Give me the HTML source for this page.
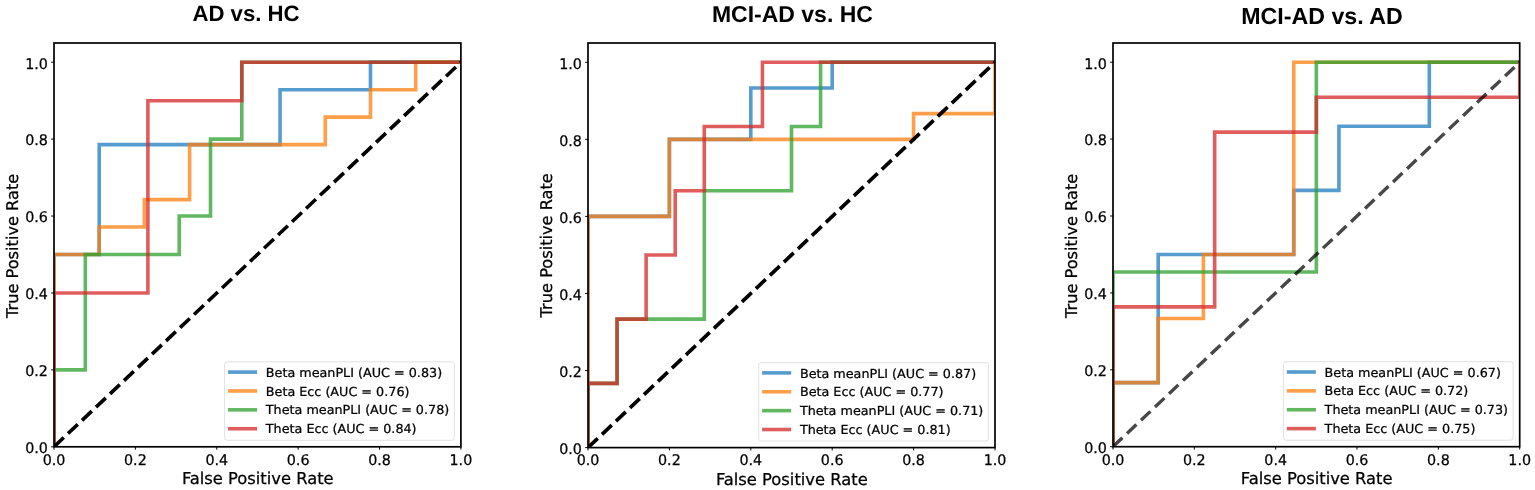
<!DOCTYPE html>
<html lang="en"><head><meta charset="utf-8"><title>ROC curves</title>
<style>html,body{margin:0;padding:0;background:#fff;}body{width:1535px;height:490px;overflow:hidden;}svg{display:block;text-rendering:geometricPrecision;}.dj{font-family:'DejaVu Sans', 'Liberation Sans', sans-serif;fill:#000;stroke:#000;stroke-width:0.25px;}.lb{font-family:'Liberation Sans', 'DejaVu Sans', sans-serif;font-weight:bold;fill:#000;}</style></head><body>
<svg width="1535" height="490" viewBox="0 0 1535 490">
<rect x="0" y="0" width="1535" height="490" fill="#ffffff"/>
<g>
<clipPath id="clip0"><rect x="54" y="43" width="406.9" height="403.8"/></clipPath>
<g clip-path="url(#clip0)" fill="none" stroke-linejoin="miter" stroke-linecap="butt">
<path d="M54 446.8 L54 254.51 L99.21 254.51 L99.21 144.64 L280.06 144.64 L280.06 89.7 L370.48 89.7 L370.48 62.23 L460.9 62.23" stroke="#1f7bbd" stroke-opacity="0.75" stroke-width="3.6" stroke-linecap="square"/>
<path d="M54 446.8 L54 254.51 L99.21 254.51 L99.21 227.04 L144.42 227.04 L144.42 199.58 L189.63 199.58 L189.63 144.64 L325.27 144.64 L325.27 117.17 L370.48 117.17 L370.48 89.7 L415.69 89.7 L415.69 62.23 L460.9 62.23" stroke="#ff7f0e" stroke-opacity="0.75" stroke-width="3.6" stroke-linecap="square"/>
<path d="M54 446.8 L54 369.89 L85.3 369.89 L85.3 254.51 L179.2 254.51 L179.2 216.06 L210.5 216.06 L210.5 139.14 L241.8 139.14 L241.8 62.23 L460.9 62.23" stroke="#2ca02c" stroke-opacity="0.75" stroke-width="3.6" stroke-linecap="square"/>
<path d="M54 446.8 L54 292.97 L147.9 292.97 L147.9 100.69 L241.8 100.69 L241.8 62.23 L460.9 62.23" stroke="#d62728" stroke-opacity="0.75" stroke-width="3.6" stroke-linecap="square"/>
<path d="M54 446.8 L460.9 62.23" stroke="#000000" stroke-opacity="1.0" stroke-width="3.6" stroke-dasharray="13.45 5.82"/>
</g>
<line x1="54" y1="446.8" x2="54" y2="449.65" stroke="#000" stroke-width="1.0"/>
<text class="dj" transform="translate(54 464.6) scale(1 1.025)" font-size="14.3" text-anchor="middle">0.0</text>
<line x1="51.15" y1="446.8" x2="54" y2="446.8" stroke="#000" stroke-width="1.0"/>
<text class="dj" transform="translate(47.9 453.15) scale(1 1.025)" font-size="14.3" text-anchor="end">0.0</text>
<line x1="135.38" y1="446.8" x2="135.38" y2="449.65" stroke="#000" stroke-width="1.0"/>
<text class="dj" transform="translate(135.38 464.6) scale(1 1.025)" font-size="14.3" text-anchor="middle">0.2</text>
<line x1="51.15" y1="369.89" x2="54" y2="369.89" stroke="#000" stroke-width="1.0"/>
<text class="dj" transform="translate(47.9 376.24) scale(1 1.025)" font-size="14.3" text-anchor="end">0.2</text>
<line x1="216.76" y1="446.8" x2="216.76" y2="449.65" stroke="#000" stroke-width="1.0"/>
<text class="dj" transform="translate(216.76 464.6) scale(1 1.025)" font-size="14.3" text-anchor="middle">0.4</text>
<line x1="51.15" y1="292.97" x2="54" y2="292.97" stroke="#000" stroke-width="1.0"/>
<text class="dj" transform="translate(47.9 299.32) scale(1 1.025)" font-size="14.3" text-anchor="end">0.4</text>
<line x1="298.14" y1="446.8" x2="298.14" y2="449.65" stroke="#000" stroke-width="1.0"/>
<text class="dj" transform="translate(298.14 464.6) scale(1 1.025)" font-size="14.3" text-anchor="middle">0.6</text>
<line x1="51.15" y1="216.06" x2="54" y2="216.06" stroke="#000" stroke-width="1.0"/>
<text class="dj" transform="translate(47.9 222.41) scale(1 1.025)" font-size="14.3" text-anchor="end">0.6</text>
<line x1="379.52" y1="446.8" x2="379.52" y2="449.65" stroke="#000" stroke-width="1.0"/>
<text class="dj" transform="translate(379.52 464.6) scale(1 1.025)" font-size="14.3" text-anchor="middle">0.8</text>
<line x1="51.15" y1="139.14" x2="54" y2="139.14" stroke="#000" stroke-width="1.0"/>
<text class="dj" transform="translate(47.9 145.49) scale(1 1.025)" font-size="14.3" text-anchor="end">0.8</text>
<line x1="460.9" y1="446.8" x2="460.9" y2="449.65" stroke="#000" stroke-width="1.0"/>
<text class="dj" transform="translate(460.9 464.6) scale(1 1.025)" font-size="14.3" text-anchor="middle">1.0</text>
<line x1="51.15" y1="62.23" x2="54" y2="62.23" stroke="#000" stroke-width="1.0"/>
<text class="dj" transform="translate(47.9 68.58) scale(1 1.025)" font-size="14.3" text-anchor="end">1.0</text>
<rect x="54" y="43" width="406.9" height="403.8" fill="none" stroke="#000" stroke-width="1.7"/>
<text class="dj" transform="translate(257.75 483.9) scale(1 1)" font-size="16.34" text-anchor="middle">False Positive Rate</text>
<text class="dj" transform="translate(17.5 245.9) rotate(-90) scale(1 1)" font-size="16.2" text-anchor="middle">True Positive Rate</text>
<text class="lb" transform="translate(246 21.1) scale(1 1)" font-size="22.2" text-anchor="middle">AD vs. HC</text>
<rect x="224.6" y="361.8" width="229.7" height="78.5" rx="2.6" ry="2.6" fill="#ffffff" fill-opacity="0.8" stroke="#d9d9d9" stroke-opacity="0.8" stroke-width="1"/>
<line x1="228" y1="372.1" x2="257.1" y2="372.1" stroke="#1f7bbd" stroke-opacity="0.75" stroke-width="3.6"/>
<text class="dj" transform="translate(265.8 376.7) scale(1 0.975)" font-size="12.75">Beta meanPLI (AUC = 0.83)</text>
<line x1="228" y1="390.97" x2="257.1" y2="390.97" stroke="#ff7f0e" stroke-opacity="0.75" stroke-width="3.6"/>
<text class="dj" transform="translate(265.8 395.57) scale(1 0.975)" font-size="12.75">Beta Ecc (AUC = 0.76)</text>
<line x1="228" y1="409.84" x2="257.1" y2="409.84" stroke="#2ca02c" stroke-opacity="0.75" stroke-width="3.6"/>
<text class="dj" transform="translate(265.8 414.44) scale(1 0.975)" font-size="12.75">Theta meanPLI (AUC = 0.78)</text>
<line x1="228" y1="428.71" x2="257.1" y2="428.71" stroke="#d62728" stroke-opacity="0.75" stroke-width="3.6"/>
<text class="dj" transform="translate(265.8 433.31) scale(1 0.975)" font-size="12.75">Theta Ecc (AUC = 0.84)</text>
</g>
<g>
<clipPath id="clip1"><rect x="588" y="43" width="407" height="404.6"/></clipPath>
<g clip-path="url(#clip1)" fill="none" stroke-linejoin="miter" stroke-linecap="butt">
<path d="M588 447.6 L588 216.4 L669.4 216.4 L669.4 139.33 L750.8 139.33 L750.8 87.96 L832.2 87.96 L832.2 62.27 L995 62.27" stroke="#1f7bbd" stroke-opacity="0.75" stroke-width="3.6" stroke-linecap="square"/>
<path d="M588 447.6 L588 216.4 L669.4 216.4 L669.4 139.33 L913.6 139.33 L913.6 113.64 L995 113.64 L995 62.27" stroke="#ff7f0e" stroke-opacity="0.75" stroke-width="3.6" stroke-linecap="square"/>
<path d="M588 447.6 L588 383.38 L617.07 383.38 L617.07 319.16 L704.29 319.16 L704.29 190.71 L791.5 190.71 L791.5 126.49 L820.57 126.49 L820.57 62.27 L995 62.27" stroke="#2ca02c" stroke-opacity="0.75" stroke-width="3.6" stroke-linecap="square"/>
<path d="M588 447.6 L588 383.38 L617.07 383.38 L617.07 319.16 L646.14 319.16 L646.14 254.93 L675.21 254.93 L675.21 190.71 L704.29 190.71 L704.29 126.49 L762.43 126.49 L762.43 62.27 L995 62.27" stroke="#d62728" stroke-opacity="0.75" stroke-width="3.6" stroke-linecap="square"/>
<path d="M588 447.6 L995 62.27" stroke="#000000" stroke-opacity="1.0" stroke-width="3.6" stroke-dasharray="13.45 5.82"/>
</g>
<line x1="588" y1="447.6" x2="588" y2="450.45" stroke="#000" stroke-width="1.0"/>
<text class="dj" transform="translate(588 465.2) scale(1 1.025)" font-size="14.3" text-anchor="middle">0.0</text>
<line x1="585.15" y1="447.6" x2="588" y2="447.6" stroke="#000" stroke-width="1.0"/>
<text class="dj" transform="translate(581.9 453.95) scale(1 1.025)" font-size="14.3" text-anchor="end">0.0</text>
<line x1="669.4" y1="447.6" x2="669.4" y2="450.45" stroke="#000" stroke-width="1.0"/>
<text class="dj" transform="translate(669.4 465.2) scale(1 1.025)" font-size="14.3" text-anchor="middle">0.2</text>
<line x1="585.15" y1="370.53" x2="588" y2="370.53" stroke="#000" stroke-width="1.0"/>
<text class="dj" transform="translate(581.9 376.88) scale(1 1.025)" font-size="14.3" text-anchor="end">0.2</text>
<line x1="750.8" y1="447.6" x2="750.8" y2="450.45" stroke="#000" stroke-width="1.0"/>
<text class="dj" transform="translate(750.8 465.2) scale(1 1.025)" font-size="14.3" text-anchor="middle">0.4</text>
<line x1="585.15" y1="293.47" x2="588" y2="293.47" stroke="#000" stroke-width="1.0"/>
<text class="dj" transform="translate(581.9 299.82) scale(1 1.025)" font-size="14.3" text-anchor="end">0.4</text>
<line x1="832.2" y1="447.6" x2="832.2" y2="450.45" stroke="#000" stroke-width="1.0"/>
<text class="dj" transform="translate(832.2 465.2) scale(1 1.025)" font-size="14.3" text-anchor="middle">0.6</text>
<line x1="585.15" y1="216.4" x2="588" y2="216.4" stroke="#000" stroke-width="1.0"/>
<text class="dj" transform="translate(581.9 222.75) scale(1 1.025)" font-size="14.3" text-anchor="end">0.6</text>
<line x1="913.6" y1="447.6" x2="913.6" y2="450.45" stroke="#000" stroke-width="1.0"/>
<text class="dj" transform="translate(913.6 465.2) scale(1 1.025)" font-size="14.3" text-anchor="middle">0.8</text>
<line x1="585.15" y1="139.33" x2="588" y2="139.33" stroke="#000" stroke-width="1.0"/>
<text class="dj" transform="translate(581.9 145.68) scale(1 1.025)" font-size="14.3" text-anchor="end">0.8</text>
<line x1="995" y1="447.6" x2="995" y2="450.45" stroke="#000" stroke-width="1.0"/>
<text class="dj" transform="translate(995 465.2) scale(1 1.025)" font-size="14.3" text-anchor="middle">1.0</text>
<line x1="585.15" y1="62.27" x2="588" y2="62.27" stroke="#000" stroke-width="1.0"/>
<text class="dj" transform="translate(581.9 68.62) scale(1 1.025)" font-size="14.3" text-anchor="end">1.0</text>
<rect x="588" y="43" width="407" height="404.6" fill="none" stroke="#000" stroke-width="1.7"/>
<text class="dj" transform="translate(791.8 484.5) scale(1 1)" font-size="16.34" text-anchor="middle">False Positive Rate</text>
<text class="dj" transform="translate(551.5 245.3) rotate(-90) scale(1 1)" font-size="16.2" text-anchor="middle">True Positive Rate</text>
<text class="lb" transform="translate(792.4 22.1) scale(1 1)" font-size="23.0" text-anchor="middle">MCI-AD vs. HC</text>
<rect x="758.7" y="362.6" width="229.7" height="78.5" rx="2.6" ry="2.6" fill="#ffffff" fill-opacity="0.8" stroke="#d9d9d9" stroke-opacity="0.8" stroke-width="1"/>
<line x1="762.1" y1="372.9" x2="791.2" y2="372.9" stroke="#1f7bbd" stroke-opacity="0.75" stroke-width="3.6"/>
<text class="dj" transform="translate(799.9 377.5) scale(1 0.975)" font-size="12.75">Beta meanPLI (AUC = 0.87)</text>
<line x1="762.1" y1="391.77" x2="791.2" y2="391.77" stroke="#ff7f0e" stroke-opacity="0.75" stroke-width="3.6"/>
<text class="dj" transform="translate(799.9 396.37) scale(1 0.975)" font-size="12.75">Beta Ecc (AUC = 0.77)</text>
<line x1="762.1" y1="410.64" x2="791.2" y2="410.64" stroke="#2ca02c" stroke-opacity="0.75" stroke-width="3.6"/>
<text class="dj" transform="translate(799.9 415.24) scale(1 0.975)" font-size="12.75">Theta meanPLI (AUC = 0.71)</text>
<line x1="762.1" y1="429.51" x2="791.2" y2="429.51" stroke="#d62728" stroke-opacity="0.75" stroke-width="3.6"/>
<text class="dj" transform="translate(799.9 434.11) scale(1 0.975)" font-size="12.75">Theta Ecc (AUC = 0.81)</text>
</g>
<g>
<clipPath id="clip2"><rect x="1113" y="43" width="406.7" height="403.7"/></clipPath>
<g clip-path="url(#clip2)" fill="none" stroke-linejoin="miter" stroke-linecap="butt">
<path d="M1113 446.7 L1113 382.62 L1158.19 382.62 L1158.19 254.46 L1293.76 254.46 L1293.76 190.38 L1338.94 190.38 L1338.94 126.3 L1429.32 126.3 L1429.32 62.22 L1519.7 62.22" stroke="#1f7bbd" stroke-opacity="0.75" stroke-width="3.6" stroke-linecap="square"/>
<path d="M1113 446.7 L1113 382.62 L1158.19 382.62 L1158.19 318.54 L1203.38 318.54 L1203.38 254.46 L1293.76 254.46 L1293.76 62.22 L1519.7 62.22" stroke="#ff7f0e" stroke-opacity="0.75" stroke-width="3.6" stroke-linecap="square"/>
<path d="M1113 446.7 L1113 271.94 L1316.35 271.94 L1316.35 62.22 L1519.7 62.22" stroke="#2ca02c" stroke-opacity="0.75" stroke-width="3.6" stroke-linecap="square"/>
<path d="M1113 446.7 L1113 306.89 L1214.67 306.89 L1214.67 132.13 L1316.35 132.13 L1316.35 97.18 L1519.7 97.18 L1519.7 62.22" stroke="#d62728" stroke-opacity="0.75" stroke-width="3.6" stroke-linecap="square"/>
<path d="M1113 446.7 L1519.7 62.22" stroke="#000000" stroke-opacity="0.72" stroke-width="3.4" stroke-dasharray="12.9 6.37"/>
</g>
<line x1="1113" y1="446.7" x2="1113" y2="449.55" stroke="#000" stroke-width="1.0"/>
<text class="dj" transform="translate(1113 464.52) scale(1 1.025)" font-size="14.3" text-anchor="middle">0.0</text>
<line x1="1110.15" y1="446.7" x2="1113" y2="446.7" stroke="#000" stroke-width="1.0"/>
<text class="dj" transform="translate(1106.9 453.05) scale(1 1.025)" font-size="14.3" text-anchor="end">0.0</text>
<line x1="1194.34" y1="446.7" x2="1194.34" y2="449.55" stroke="#000" stroke-width="1.0"/>
<text class="dj" transform="translate(1194.34 464.52) scale(1 1.025)" font-size="14.3" text-anchor="middle">0.2</text>
<line x1="1110.15" y1="369.8" x2="1113" y2="369.8" stroke="#000" stroke-width="1.0"/>
<text class="dj" transform="translate(1106.9 376.15) scale(1 1.025)" font-size="14.3" text-anchor="end">0.2</text>
<line x1="1275.68" y1="446.7" x2="1275.68" y2="449.55" stroke="#000" stroke-width="1.0"/>
<text class="dj" transform="translate(1275.68 464.52) scale(1 1.025)" font-size="14.3" text-anchor="middle">0.4</text>
<line x1="1110.15" y1="292.91" x2="1113" y2="292.91" stroke="#000" stroke-width="1.0"/>
<text class="dj" transform="translate(1106.9 299.26) scale(1 1.025)" font-size="14.3" text-anchor="end">0.4</text>
<line x1="1357.02" y1="446.7" x2="1357.02" y2="449.55" stroke="#000" stroke-width="1.0"/>
<text class="dj" transform="translate(1357.02 464.52) scale(1 1.025)" font-size="14.3" text-anchor="middle">0.6</text>
<line x1="1110.15" y1="216.01" x2="1113" y2="216.01" stroke="#000" stroke-width="1.0"/>
<text class="dj" transform="translate(1106.9 222.36) scale(1 1.025)" font-size="14.3" text-anchor="end">0.6</text>
<line x1="1438.36" y1="446.7" x2="1438.36" y2="449.55" stroke="#000" stroke-width="1.0"/>
<text class="dj" transform="translate(1438.36 464.52) scale(1 1.025)" font-size="14.3" text-anchor="middle">0.8</text>
<line x1="1110.15" y1="139.12" x2="1113" y2="139.12" stroke="#000" stroke-width="1.0"/>
<text class="dj" transform="translate(1106.9 145.47) scale(1 1.025)" font-size="14.3" text-anchor="end">0.8</text>
<line x1="1519.7" y1="446.7" x2="1519.7" y2="449.55" stroke="#000" stroke-width="1.0"/>
<text class="dj" transform="translate(1519.7 464.52) scale(1 1.025)" font-size="14.3" text-anchor="middle">1.0</text>
<line x1="1110.15" y1="62.22" x2="1113" y2="62.22" stroke="#000" stroke-width="1.0"/>
<text class="dj" transform="translate(1106.9 68.57) scale(1 1.025)" font-size="14.3" text-anchor="end">1.0</text>
<rect x="1113" y="43" width="406.7" height="403.7" fill="none" stroke="#000" stroke-width="1.7"/>
<text class="dj" transform="translate(1316.65 483.82) scale(1 1)" font-size="16.34" text-anchor="middle">False Positive Rate</text>
<text class="dj" transform="translate(1076.5 245.9) rotate(-90) scale(1 1)" font-size="16.2" text-anchor="middle">True Positive Rate</text>
<text class="lb" transform="translate(1322 24.3) scale(1 1)" font-size="23.2" text-anchor="middle">MCI-AD vs. AD</text>
<rect x="1283.4" y="361.7" width="229.7" height="78.5" rx="2.6" ry="2.6" fill="#ffffff" fill-opacity="0.8" stroke="#d9d9d9" stroke-opacity="0.8" stroke-width="1"/>
<line x1="1286.8" y1="372" x2="1315.9" y2="372" stroke="#1f7bbd" stroke-opacity="0.75" stroke-width="3.6"/>
<text class="dj" transform="translate(1324.6 376.6) scale(1 0.975)" font-size="12.75">Beta meanPLI (AUC = 0.67)</text>
<line x1="1286.8" y1="390.87" x2="1315.9" y2="390.87" stroke="#ff7f0e" stroke-opacity="0.75" stroke-width="3.6"/>
<text class="dj" transform="translate(1324.6 395.47) scale(1 0.975)" font-size="12.75">Beta Ecc (AUC = 0.72)</text>
<line x1="1286.8" y1="409.74" x2="1315.9" y2="409.74" stroke="#2ca02c" stroke-opacity="0.75" stroke-width="3.6"/>
<text class="dj" transform="translate(1324.6 414.34) scale(1 0.975)" font-size="12.75">Theta meanPLI (AUC = 0.73)</text>
<line x1="1286.8" y1="428.61" x2="1315.9" y2="428.61" stroke="#d62728" stroke-opacity="0.75" stroke-width="3.6"/>
<text class="dj" transform="translate(1324.6 433.21) scale(1 0.975)" font-size="12.75">Theta Ecc (AUC = 0.75)</text>
</g>
</svg>
</body></html>
